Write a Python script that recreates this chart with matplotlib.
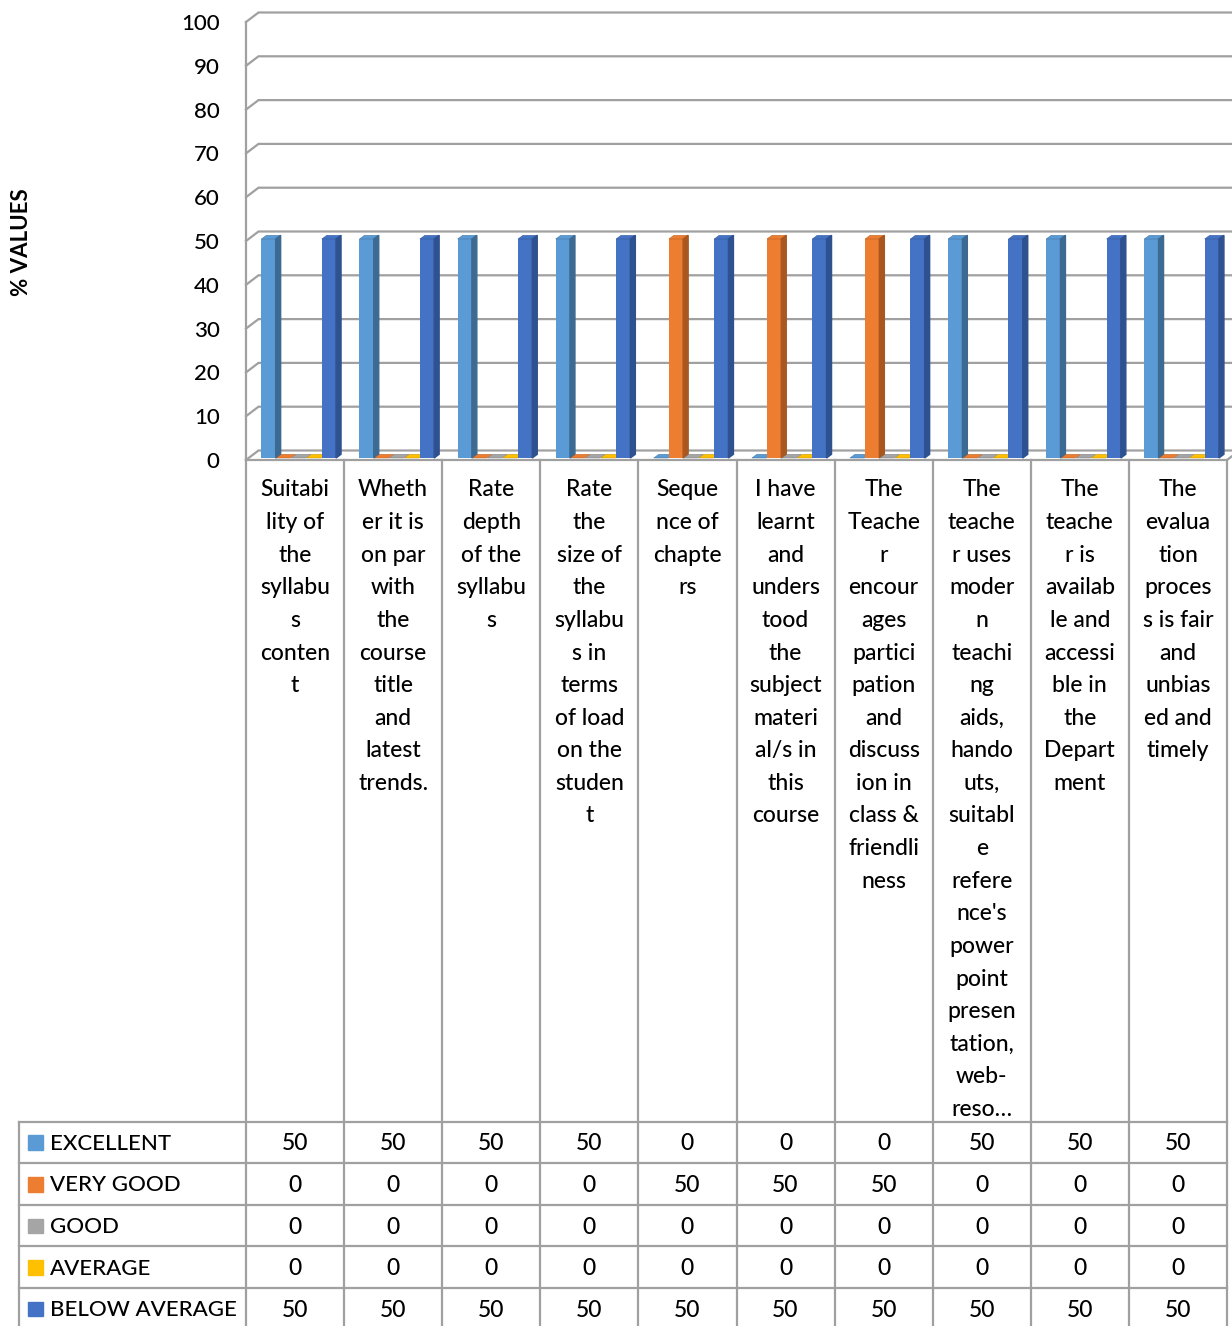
import matplotlib
matplotlib.use("Agg")
import matplotlib.pyplot as plt
from matplotlib.patches import Polygon, Rectangle

plt.rcParams['font.family'] = ['Lato', 'DejaVu Sans']
plt.rcParams['font.weight'] = 'medium'

# data
categories = [
    "Suitabi\nlity of\nthe\nsyllabu\ns\nconten\nt",
    "Wheth\ner it is\non par\nwith\nthe\ncourse\ntitle\nand\nlatest\ntrends.",
    "Rate\ndepth\nof the\nsyllabu\ns",
    "Rate\nthe\nsize of\nthe\nsyllabu\ns in\nterms\nof load\non the\nstuden\nt",
    "Seque\nnce of\nchapte\nrs",
    "I have\nlearnt\nand\nunders\ntood\nthe\nsubject\nmateri\nal/s in\nthis\ncourse",
    "The\nTeache\nr\nencour\nages\npartici\npation\nand\ndiscuss\nion in\nclass &\nfriendli\nness",
    "The\nteache\nr uses\nmoder\nn\nteachi\nng\naids,\nhando\nuts,\nsuitabl\ne\nrefere\nnce's\npower\npoint\npresen\ntation,\nweb-\nreso\u2026",
    "The\nteache\nr is\navailab\nle and\naccessi\nble in\nthe\nDepart\nment",
    "The\nevalua\ntion\nproces\ns is fair\nand\nunbias\ned and\ntimely",
]
series_names = ["EXCELLENT", "VERY GOOD", "GOOD", "AVERAGE", "BELOW AVERAGE"]
excellent = [50, 50, 50, 50, 0, 0, 0, 50, 50, 50]
very_good = [0, 0, 0, 0, 50, 50, 50, 0, 0, 0]
good = [0, 0, 0, 0, 0, 0, 0, 0, 0, 0]
average = [0, 0, 0, 0, 0, 0, 0, 0, 0, 0]
below_average = [50, 50, 50, 50, 50, 50, 50, 50, 50, 50]
series = [excellent, very_good, good, average, below_average]
yticks = [0, 10, 20, 30, 40, 50, 60, 70, 80, 90, 100]

front_cols = ['#5B9BD5', '#ED7D31', '#A5A5A5', '#FFC000', '#4472C4']
side_cols = ['#3D6A93', '#A9571F', '#767676', '#B88A00', '#2E5190']
grid_col = '#A0A0A0'

# layout (pixels)
W, H = 1232, 1326
L, R = 246, 1227
Y0, Y100 = 460, 22
ncat = len(categories)
ux = ncat / (R - L)
uy = 100 / (Y0 - Y100)

fig = plt.figure(figsize=(W / 100, H / 100), dpi=100)
ax = fig.add_axes([L / W, 1 - Y0 / H, (R - L) / W, (Y0 - Y100) / H])
ax.set_xlim(0, ncat)
ax.set_ylim(0, 100)
for s in ax.spines.values():
    s.set_visible(False)
ax.set_xticks([])
ax.set_yticks(yticks)
ax.set_yticklabels([str(v) for v in yticks], fontsize=16, color='black')
ax.tick_params(axis='y', length=0, pad=19)
ax.patch.set_alpha(0)

# walls: back gridlines + left wall diagonals
ddx, ddy = 12.5 * ux, 9.5 * uy
for v in yticks:
    ax.plot([0, ddx, ncat + ddx + 0.2], [v, v + ddy, v + ddy], color=grid_col,
            lw=1.6, clip_on=False, zorder=1, solid_joinstyle='miter')
ax.plot([0, ncat, ncat + ddx], [0, 0, ddy], color=grid_col, lw=1.6,
        clip_on=False, zorder=1)
ax.plot([0, 0], [0, 100], color=grid_col, lw=1.6, clip_on=False, zorder=1)

# 3d-ish columns
off0, step, bw = 22.5 * ux, 15.1 * ux, 14.3 * ux
bdx, bdy = 5 * ux, 3.7 * uy
lift = 2 * uy
for j, vals in enumerate(series):
    xs = [i + off0 + j * step for i in range(ncat)]
    ax.bar(xs, vals, width=bw, bottom=lift, color=front_cols[j], zorder=3 + j)
    for x, v in zip(xs, vals):
        x0, x1 = x - bw / 2, x + bw / 2
        top = lift + v
        ax.add_patch(Polygon([[x0, top], [x1, top], [x1 + bdx, top + bdy], [x0 + bdx, top + bdy]],
                             closed=True, color=front_cols[j], ec=side_cols[j], lw=0.3,
                             zorder=3 + j, clip_on=False))
        if v > 0:
            ax.add_patch(Polygon([[x1, lift], [x1 + bdx, lift + bdy], [x1 + bdx, top + bdy], [x1, top]],
                                 closed=True, color=side_cols[j], zorder=3 + j, clip_on=False))

fig.text(22 / W, 1 - 242 / H, '% VALUES', rotation=90, fontsize=16, fontweight='bold',
         ha='center', va='center')

# data table below
tab = fig.add_axes([L / W, 0, (R - L) / W, (H - Y0) / H])
tab.set_xlim(0, ncat)
tab.set_ylim(H, Y0)
tab.axis('off')
tab.patch.set_alpha(0)

head_bot = 1121.5
row_h = 41.6
leg_left = (19 - L) * ux
line_kw = dict(color=grid_col, lw=1.6, clip_on=False, zorder=1)

for i in range(ncat + 1):
    tab.plot([i, i], [Y0, H + 5], **line_kw)
tab.plot([leg_left, leg_left], [head_bot, H + 5], **line_kw)
for k in range(len(series) + 1):
    yk = head_bot + k * row_h
    tab.plot([leg_left, ncat], [yk, yk], **line_kw)

# category labels, one line at a time
for i, lab in enumerate(categories):
    for k, line in enumerate(lab.split('\n')):
        tab.text(i + 0.5, 496.5 + k * 32.6, line, ha='center', va='baseline', fontsize=16.5)

# rows: legend key + values
for j, (name, vals) in enumerate(zip(series_names, series)):
    yc = head_bot + (j + 0.5) * row_h + 1.5
    tab.add_patch(Rectangle(((28 - L) * ux, yc - 8.5), 14.7 * ux, 14.7,
                            color=front_cols[j], clip_on=False))
    tab.text((50 - L) * ux, yc, name, ha='left', va='center', fontsize=16)
    for i, v in enumerate(vals):
        tab.text(i + 0.5, yc, str(v), ha='center', va='center', fontsize=16.5)

fig.savefig('out.png', dpi=100, facecolor='white')
